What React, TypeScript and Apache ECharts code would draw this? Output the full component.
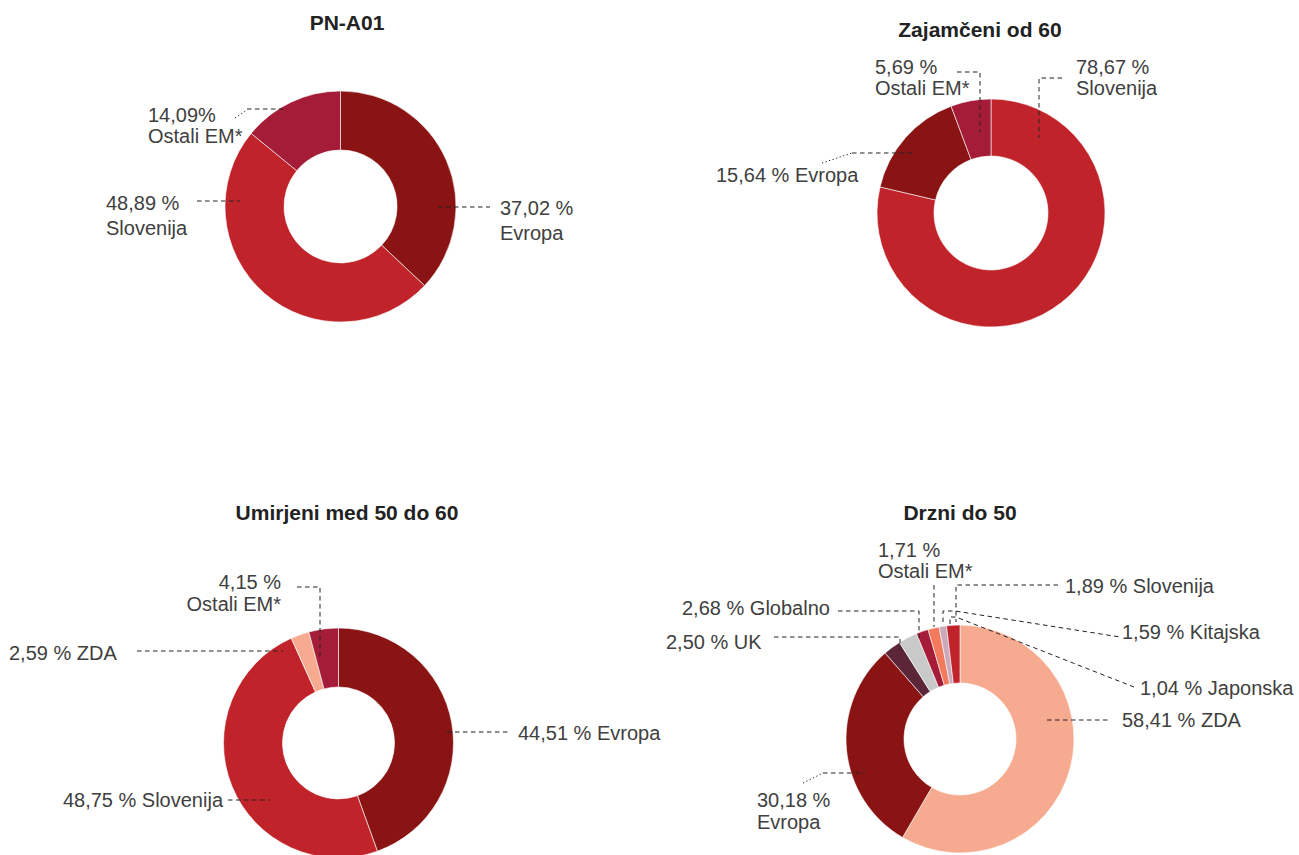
import React, { useEffect, useRef } from "react";
import * as echarts from "echarts";

// ---- data ----
const titles = ["PN-A01", "Zajamčeni od 60", "Umirjeni med 50 do 60", "Drzni do 50"];

const pnA01Names = ["Evropa", "Slovenija", "Ostali EM*"];
const pnA01Values = [37.02, 48.89, 14.09];

const zajamceniNames = ["Slovenija", "Evropa", "Ostali EM*"];
const zajamceniValues = [78.67, 15.64, 5.69];

const umirjeniNames = ["Evropa", "Slovenija", "ZDA", "Ostali EM*"];
const umirjeniValues = [44.51, 48.75, 2.59, 4.15];

const drzniNames = ["ZDA", "Evropa", "UK", "Globalno", "Ostali EM*", "Kitajska", "Japonska", "Slovenija"];
const drzniValues = [58.41, 30.18, 2.5, 2.68, 1.71, 1.59, 1.04, 1.89];

// ---- styles ----
const colorOf: Record<string, string> = {
  Evropa: "#8A1414",
  Slovenija: "#C0242A",
  "Ostali EM*": "#A51C38",
  ZDA: "#F6AB91",
  UK: "#5C2639",
  Globalno: "#C9C9C9",
  Kitajska: "#F47A5E",
  Japonska: "#C9A9BA",
};

type Seg = { pts: number[][]; dot?: boolean };
type LabelLayout = { x: number; y: number; y2?: number; align?: string; noSpace?: boolean; segs: Seg[] };
type ChartLayout = { center: number[]; radius: number[]; title: number[]; labels: LabelLayout[] };

const layouts: ChartLayout[] = [
  {
    center: [340.5, 206.5],
    radius: [56.5, 115.5],
    title: [347, 22.5],
    labels: [
      { x: 500, y: 207.5, y2: 233, segs: [{ pts: [[438, 207], [490, 207]] }] },
      { x: 106, y: 202.5, y2: 228, segs: [{ pts: [[197, 201], [240, 201]] }] },
      {
        x: 148, y: 115, y2: 136, noSpace: true,
        segs: [{ pts: [[235, 118], [247, 110]], dot: true }, { pts: [[247, 109], [283, 109]] }],
      },
    ],
  },
  {
    center: [991, 213],
    radius: [57, 114],
    title: [980, 29.5],
    labels: [
      { x: 1076, y: 66.5, y2: 87.5, segs: [{ pts: [[1062, 78], [1039, 78], [1039, 138]] }] },
      { x: 716, y: 175, segs: [{ pts: [[822, 163], [852, 153]], dot: true }, { pts: [[852, 153], [912, 153]] }] },
      { x: 875, y: 66.5, y2: 88, segs: [{ pts: [[957, 72], [980, 72], [980, 132]] }] },
    ],
  },
  {
    center: [338.5, 743],
    radius: [56, 115],
    title: [347, 512],
    labels: [
      { x: 518, y: 733, segs: [{ pts: [[447, 732], [510, 732]] }] },
      { x: 223, y: 800, align: "right", segs: [{ pts: [[228, 800], [270, 800]] }] },
      { x: 9, y: 653, segs: [{ pts: [[137, 651], [283, 651]] }] },
      { x: 281, y: 582, y2: 604, align: "right", segs: [{ pts: [[297, 587], [320, 587], [320, 658]] }] },
    ],
  },
  {
    center: [960, 739],
    radius: [56, 114],
    title: [960, 512],
    labels: [
      { x: 1122, y: 720, segs: [{ pts: [[1047, 720], [1110, 720]] }] },
      { x: 757, y: 800, y2: 822, segs: [{ pts: [[803, 783], [823, 773]], dot: true }, { pts: [[823, 773], [865, 773]] }] },
      { x: 666, y: 642, segs: [{ pts: [[774, 637], [900, 637], [900, 650]] }] },
      { x: 682, y: 608, segs: [{ pts: [[838, 611], [919, 611], [919, 638]] }] },
      { x: 878, y: 550, y2: 571, segs: [{ pts: [[934, 585], [934, 627]] }] },
      { x: 1122, y: 632, segs: [{ pts: [[943, 622], [943, 611], [955, 611], [1120, 637]] }] },
      { x: 1140, y: 688, segs: [{ pts: [[950, 624], [950, 617], [956, 617], [1134, 687]] }] },
      { x: 1065, y: 586, segs: [{ pts: [[1058, 585], [956, 585], [956, 622]] }] },
    ],
  },
];

const chartNames = [pnA01Names, zajamceniNames, umirjeniNames, drzniNames];
const chartValues = [pnA01Values, zajamceniValues, umirjeniValues, drzniValues];

const FONT = '"Liberation Sans", Arial, Helvetica, sans-serif';
const TEXT_COLOR = "#404040";
const LINE_COLOR = "#222222";

function fmt(v: number): string {
  return v.toFixed(2).replace(".", ",");
}

export default function App() {
  const ref = useRef<HTMLDivElement>(null);

  useEffect(() => {
    if (!ref.current) return;
    const chart = echarts.init(ref.current, undefined, { renderer: "svg" });

    const series: any[] = [];
    const graphics: any[] = [];

    layouts.forEach((lay, ci) => {
      const names = chartNames[ci];
      const values = chartValues[ci];
      series.push({
        type: "pie",
        center: lay.center,
        radius: lay.radius,
        startAngle: 90,
        clockwise: true,
        silent: true,
        avoidLabelOverlap: false,
        label: { show: false },
        labelLine: { show: false },
        emphasis: { disabled: true },
        itemStyle: { borderColor: "#ffffff", borderWidth: 0.6 },
        data: names.map((n, i) => ({ name: n, value: values[i], itemStyle: { color: colorOf[n] } })),
      });

      graphics.push({
        type: "text",
        x: lay.title[0],
        y: lay.title[1],
        z: 100,
        style: {
          text: titles[ci],
          fontFamily: FONT,
          fontSize: 21,
          fontWeight: "bold",
          fill: "#222222",
          align: "center",
          verticalAlign: "middle",
        },
      });

      lay.labels.forEach((lb, i) => {
        const pct = fmt(values[i]) + (lb.noSpace ? "%" : " %");
        const align = lb.align || "left";
        const baseStyle = {
          fontFamily: FONT,
          fontSize: 20,
          fill: TEXT_COLOR,
          align,
          verticalAlign: "middle",
        };
        if (lb.y2 !== undefined) {
          graphics.push({ type: "text", x: lb.x, y: lb.y, z: 100, style: { ...baseStyle, text: pct } });
          graphics.push({ type: "text", x: lb.x, y: lb.y2, z: 100, style: { ...baseStyle, text: names[i] } });
        } else {
          graphics.push({
            type: "text",
            x: lb.x,
            y: lb.y,
            z: 100,
            style: { ...baseStyle, text: pct + " " + names[i] },
          });
        }
        lb.segs.forEach((s) => {
          graphics.push({
            type: "polyline",
            z: 100,
            shape: { points: s.pts },
            style: {
              stroke: LINE_COLOR,
              lineWidth: 1,
              fill: null,
              lineDash: s.dot ? [1.3, 2.4] : [4.5, 3.5],
            },
          });
        });
      });
    });

    chart.setOption({
      animation: false,
      backgroundColor: "#ffffff",
      series,
      graphic: { elements: graphics },
    });

    return () => chart.dispose();
  }, []);

  return (
    <div
      ref={ref}
      style={{ position: "fixed", left: 0, top: 0, width: 1299, height: 855, background: "#fff" }}
    />
  );
}
